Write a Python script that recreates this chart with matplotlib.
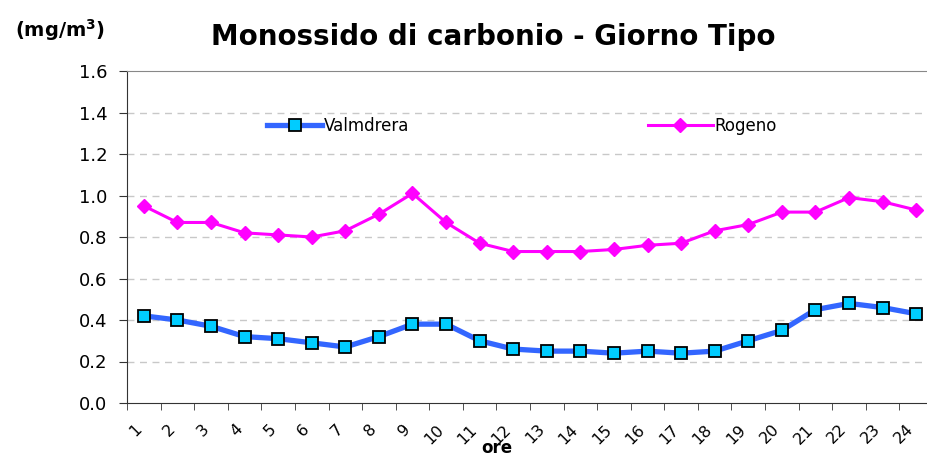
import matplotlib
matplotlib.use("Agg")
import matplotlib.pyplot as plt
import matplotlib.transforms as mtransforms
import numpy as np

# hours of the typical day
ore = [str(h) for h in range(1, 25)]

valmdrera = [0.42, 0.40, 0.37, 0.32, 0.31, 0.29, 0.27, 0.32, 0.38, 0.38, 0.30, 0.26,
             0.25, 0.25, 0.24, 0.25, 0.24, 0.25, 0.30, 0.35, 0.45, 0.48, 0.46, 0.43]
rogeno = [0.95, 0.87, 0.87, 0.82, 0.81, 0.80, 0.83, 0.91, 1.01, 0.87, 0.77, 0.73,
          0.73, 0.73, 0.74, 0.76, 0.77, 0.83, 0.86, 0.92, 0.92, 0.99, 0.97, 0.93]

yticks = [0.0, 0.2, 0.4, 0.6, 0.8, 1.0, 1.2, 1.4, 1.6]

plt.rcParams['font.family'] = ['DejaVu Sans']

fig = plt.figure(figsize=(9.27, 4.59), dpi=100)
ax = fig.add_axes([127 / 927, 1 - 403 / 459, 806 / 927, 332 / 459])

x = np.arange(len(ore))
ax.plot(x, valmdrera, color='#3366ff', linewidth=3.8, marker='s', markersize=9,
        markerfacecolor='#00ccff', markeredgecolor='black', markeredgewidth=1.3,
        label='Valmdrera', zorder=3)
ax.plot(x, rogeno, color='#ff00ff', linewidth=2.2, marker='D', markersize=7,
        markerfacecolor='#ff00ff', markeredgecolor='#ff00ff',
        label='Rogeno', zorder=3)

ax.set_xlim(-0.5, len(ore) - 0.5)
ax.set_ylim(0, 1.6)
ax.set_yticks(yticks)
ax.set_yticklabels(['%.1f' % v for v in yticks], fontsize=13)
for v in yticks[1:-1]:
    ax.axhline(v, color='#c8c8c8', linestyle=(0, (5, 4)), linewidth=1, zorder=1)

ax.set_xticks(x)
ax.set_xticks(np.arange(len(ore) + 1) - 0.5, minor=True)
ax.tick_params(axis='x', which='major', length=0, pad=12)
ax.tick_params(axis='x', which='minor', length=5, direction='out', color='#333333')
ax.tick_params(axis='y', length=6, direction='out', color='#333333', pad=8)
ax.set_xticklabels(ore, rotation=45, ha='right', rotation_mode='anchor', fontsize=11.5)
# shift the slanted hour labels a bit to the left, as in the original
offset = mtransforms.ScaledTranslation(-10 / 100, -2 / 100, fig.dpi_scale_trans)
for lab in ax.get_xticklabels():
    lab.set_transform(lab.get_transform() + offset)

ax.spines['top'].set_color('#888888')
ax.spines['right'].set_visible(False)
ax.spines['left'].set_color('#333333')
ax.spines['bottom'].set_color('#333333')

h, l = ax.get_legend_handles_labels()
leg1 = ax.legend([h[0]], [l[0]], loc='center', bbox_to_anchor=(0.262, 0.835), frameon=False,
                 fontsize=12, handlelength=3.3, handletextpad=0.1)
ax.add_artist(leg1)
ax.legend([h[1]], [l[1]], loc='center', bbox_to_anchor=(0.726, 0.835), frameon=False,
          fontsize=12, handlelength=3.9, handletextpad=0.1)

fig.text(493 / 927, 1 - 37 / 459, 'Monossido di carbonio - Giorno Tipo', ha='center',
         va='center', fontsize=20, fontweight='bold')
fig.text(60 / 927, 1 - 30 / 459, '(mg/m$^\\mathbf{3}$)', ha='center', va='center',
         fontsize=14, fontweight='bold')
fig.text(497 / 927, 2 / 459, 'ore', ha='center', va='bottom', fontsize=12, fontweight='bold')

fig.savefig('out.png', dpi=100)
